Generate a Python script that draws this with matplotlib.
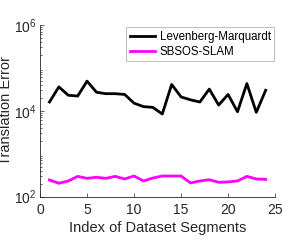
import numpy as np
import matplotlib
matplotlib.use('Agg')
import matplotlib.pyplot as plt

segments = list(range(1, 25))
lm_error = [1.6e4, 3.6e4, 2.3e4, 2.2e4, 4.9e4, 2.7e4, 2.5e4, 2.5e4, 2.4e4, 1.5e4,
            1.25e4, 1.2e4, 8.4e3, 4.1e4, 2.1e4, 1.8e4, 1.6e4, 3.2e4, 1.36e4, 2.4e4,
            9.5e3, 4.3e4, 9.2e3, 3.0e4]
sbsos_error = [245, 205, 232, 297, 267, 283, 267, 297, 258, 303,
               232, 272, 303, 303, 303, 209, 232, 248, 216, 221,
               232, 297, 258, 253]
xticks = [0, 5, 10, 15, 20, 25]

plt.rcParams['font.family'] = ['Liberation Sans', 'DejaVu Sans']
plt.rcParams['mathtext.fontset'] = 'custom'
plt.rcParams['mathtext.rm'] = 'Liberation Sans'
plt.rcParams['mathtext.it'] = 'Liberation Sans:italic'
plt.rcParams['mathtext.default'] = 'regular'
grey = '#262626'

fig = plt.figure(figsize=(2.99, 2.44), dpi=100)
ax = fig.add_axes([0.134, 0.194, 0.786, 0.704])

ax.plot(segments, lm_error, color='k', lw=2, label='Levenberg-Marquardt')
ax.plot(segments, sbsos_error, color='#ff00ff', lw=2, label='SBSOS-SLAM')

ax.set_yscale('log')
ax.set_ylim(1e2, 1e6)
ax.set_xlim(0, 25)
ax.set_xticks(xticks)
ax.set_yticks([1e2, 1e4, 1e6])

for s in ['top', 'right']:
    ax.spines[s].set_visible(False)
for s in ['left', 'bottom']:
    ax.spines[s].set_color(grey)
    ax.spines[s].set_linewidth(0.6)
ax.tick_params(which='both', direction='in', colors=grey, labelsize=10, width=0.5)
ax.tick_params(which='major', length=3, pad=2.5)
ax.tick_params(which='minor', length=1.5)
ax.tick_params(axis='x', pad=4.5)

ax.set_xlabel('Index of Dataset Segments', fontsize=10.5, color=grey, labelpad=3)
ax.set_ylabel('Translation Error', fontsize=10.5, color=grey, labelpad=1)

leg = ax.legend(loc='upper right', bbox_to_anchor=(0.997, 0.985), fontsize=8.3,
                frameon=True, fancybox=False, handlelength=2.2, borderpad=0.3,
                labelspacing=0.25, handletextpad=0.4, borderaxespad=0)
leg.get_frame().set_edgecolor('#a0a0a0')
leg.get_frame().set_linewidth(0.6)

fig.savefig('out.png', dpi=100)
